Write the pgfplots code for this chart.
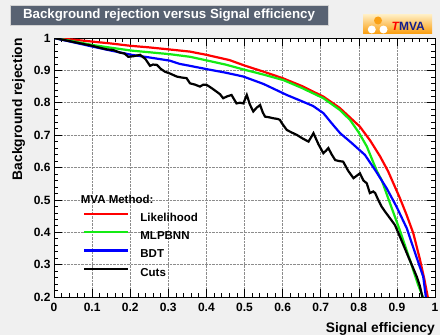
\documentclass[border=0pt]{standalone}
\usepackage{pgfplots}
\pgfplotsset{compat=1.18}
\usepackage{fontspec}
\setmainfont{Liberation Sans}
\definecolor{canvasbg}{RGB}{240,240,240}
\definecolor{titlebg}{RGB}{88,98,114}
\definecolor{tmvablue}{RGB}{20,30,140}
\definecolor{rootgreen}{RGB}{20,235,20}
\definecolor{logoorange}{RGB}{250,160,20}
\definecolor{logolight}{RGB}{255,236,190}

\pgfplotstableread{
x y
0 1.0
0.05 0.995
0.10 0.989
0.15 0.983
0.20 0.976
0.25 0.971
0.30 0.965
0.357 0.958
0.40 0.948
0.46 0.932
0.50 0.915
0.55 0.896
0.60 0.876
0.65 0.852
0.707 0.819
0.75 0.784
0.803 0.726
0.83 0.683
0.856 0.634
0.877 0.588
0.908 0.505
0.925 0.455
0.943 0.397
0.96 0.318
0.972 0.255
0.981 0.2
}\likelihood

\pgfplotstableread{
x y
0 1.0
0.05 0.990
0.103 0.978
0.15 0.970
0.204 0.961
0.25 0.956
0.304 0.950
0.357 0.942
0.396 0.932
0.45 0.918
0.50 0.902
0.55 0.887
0.602 0.870
0.65 0.846
0.707 0.814
0.75 0.778
0.777 0.747
0.80 0.708
0.821 0.665
0.847 0.590
0.860 0.561
0.882 0.489
0.908 0.405
0.934 0.315
0.955 0.240
0.968 0.2
}\mlpbnn

\pgfplotstableread{
x y
0 1.0
0.05 0.987
0.103 0.973
0.15 0.961
0.204 0.948
0.25 0.940
0.304 0.930
0.33 0.920
0.357 0.914
0.40 0.904
0.45 0.893
0.497 0.881
0.55 0.858
0.611 0.824
0.65 0.805
0.68 0.790
0.707 0.768
0.73 0.735
0.751 0.706
0.78 0.677
0.816 0.639
0.843 0.592
0.873 0.536
0.899 0.479
0.926 0.412
0.948 0.335
0.969 0.263
0.976 0.2
}\bdt

\pgfplotstableread{
x y
0 1.0
0.05 0.988
0.10 0.976
0.12 0.970
0.138 0.965
0.155 0.963
0.173 0.955
0.185 0.952
0.195 0.942
0.21 0.944
0.226 0.948
0.24 0.935
0.252 0.914
0.26 0.918
0.27 0.917
0.28 0.905
0.291 0.896
0.305 0.890
0.322 0.881
0.335 0.878
0.348 0.876
0.357 0.860
0.37 0.856
0.383 0.850
0.392 0.856
0.401 0.855
0.414 0.845
0.427 0.834
0.436 0.826
0.444 0.814
0.455 0.820
0.466 0.824
0.472 0.812
0.479 0.798
0.488 0.800
0.497 0.798
0.506 0.824
0.514 0.795
0.523 0.773
0.532 0.785
0.541 0.793
0.548 0.770
0.554 0.757
0.565 0.755
0.576 0.752
0.587 0.750
0.593 0.747
0.598 0.737
0.611 0.716
0.624 0.708
0.637 0.701
0.652 0.690
0.668 0.680
0.681 0.706
0.694 0.672
0.707 0.644
0.714 0.652
0.720 0.660
0.729 0.640
0.738 0.623
0.748 0.620
0.759 0.618
0.772 0.590
0.786 0.567
0.795 0.575
0.803 0.582
0.812 0.560
0.821 0.551
0.829 0.521
0.838 0.526
0.843 0.521
0.851 0.500
0.860 0.479
0.870 0.462
0.882 0.443
0.895 0.422
0.908 0.386
0.918 0.358
0.930 0.324
0.941 0.294
0.952 0.263
0.960 0.235
0.967 0.2
}\cuts

\begin{document}
\begin{tikzpicture}[x=1bp,y=1bp]
\useasboundingbox (0,0) rectangle (440,335);
\fill[canvasbg] (0,0) rectangle (440,335);
% title box
\fill[titlebg] (10,310) rectangle (328,329);
\draw[gray!35, line width=1bp] (10,310) rectangle (328,329);
\node[anchor=base, inner sep=0pt, text=white, font=\bfseries\fontsize{13.3bp}{15bp}\selectfont] at (169,316.7) {Background rejection versus Signal efficiency};
% logo
\shade[top color=logolight, bottom color=logoorange] (363,302) rectangle (432,320);
\fill[logoorange] (378,314.5) circle (4);
\fill[white] (371.8,305.5) circle (4);
\fill[white] (383.5,305.5) circle (4);
\node[anchor=base west, inner sep=0pt, font=\bfseries\fontsize{12bp}{14bp}\selectfont] at (391.5,305) {\textcolor{red}{\itshape T}\textcolor{tmvablue}{MVA}};
% axis labels
\node[rotate=90, anchor=base east, inner sep=0pt, font=\bfseries\fontsize{13.8bp}{16bp}\selectfont] at (22,297) {Background rejection};
\node[anchor=base east, inner sep=0pt, font=\bfseries\fontsize{13.8bp}{16bp}\selectfont] at (435,3) {Signal efficiency};
\begin{axis}[
  at={(54bp,38bp)}, anchor=south west,
  scale only axis, width=381bp, height=259bp,
  xmin=0, xmax=1, ymin=0.2, ymax=1,
  axis background/.style={fill=white},
  xtick={0,0.1,0.2,0.3,0.4,0.5,0.6,0.7,0.8,0.9,1},
  xticklabels={0,0.1,0.2,0.3,0.4,0.5,0.6,0.7,0.8,0.9,1},
  ytick={0.2,0.3,0.4,0.5,0.6,0.7,0.8,0.9,1},
  yticklabels={0.2,0.3,0.4,0.5,0.6,0.7,0.8,0.9,1},
  minor tick num=4,
  tick align=inside,
  major tick length=8bp, minor tick length=4bp,
  tick style={black, line width=0.6bp},
  axis line style={black, line width=0.8bp},
  grid=major,
  major grid style={densely dotted, gray!90, line width=0.6bp},
  ticklabel style={font=\bfseries\fontsize{12bp}{14bp}\selectfont},
  xticklabel style={yshift=-3bp},
  yticklabel style={xshift=0bp},
  legend style={at={(axis cs:0.0761,0.469)}, anchor=north west, draw=none, fill=none,
    font=\bfseries\fontsize{11.5bp}{13bp}\selectfont, row sep=2.8bp, column sep=9bp,
    inner sep=0pt, nodes={inner sep=2bp, text height=9bp, text depth=2.5bp}},
  legend cell align=left,
  legend image code/.code={\draw[#1, line width=2.2bp] (0bp,4bp) -- (44bp,4bp);},
]
\addplot[red, line width=2.2bp] table[x=x,y=y] {\likelihood};
\addlegendentry{Likelihood}
\addplot[rootgreen, line width=2.2bp] table[x=x,y=y] {\mlpbnn};
\addlegendentry{MLPBNN}
\addplot[blue, line width=2.2bp] table[x=x,y=y] {\bdt};
\addlegendentry{BDT}
\addplot[black, line width=2.2bp] table[x=x,y=y] {\cuts};
\addlegendentry{Cuts}
\node[anchor=base west, inner sep=0pt, font=\bfseries\fontsize{11.5bp}{13bp}\selectfont] at (axis cs:0.070,0.489) {MVA Method:};
\end{axis}
\end{tikzpicture}
\end{document}
